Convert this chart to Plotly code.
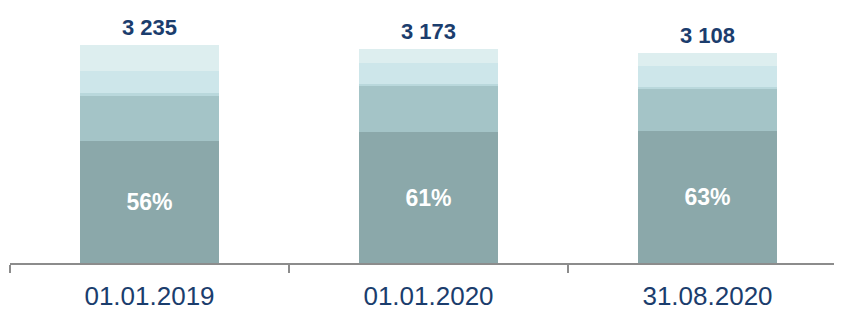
import plotly.graph_objects as go

categories = ["01.01.2019", "01.01.2020", "31.08.2020"]
totals = [3235, 3173, 3108]
share_labels = ["56%", "61%", "63%"]
seg_dark = [1812, 1935, 1958]
seg_mid = [672, 680, 615]
seg_thin = [28, 38, 30]
seg_light = [330, 315, 315]
seg_lightest = [393, 205, 190]

colors = ["#8BA8AA", "#A4C4C7", "#B9D8DC", "#CDE6EA", "#DDEEEF"]
series = [seg_dark, seg_mid, seg_thin, seg_light, seg_lightest]

FONT = "Liberation Sans Narrow, Arial Narrow, Liberation Sans, Arial, sans-serif"
NAVY = "#1B3D6D"

fig = go.Figure()
for i, (vals, col) in enumerate(zip(series, colors)):
    fig.add_trace(go.Bar(
        x=categories, y=vals,
        marker=dict(color=col, line=dict(width=0)),
        width=0.5,
        text=share_labels if i == 0 else None,
        textposition="inside" if i == 0 else "none",
        insidetextanchor="middle",
        textfont=dict(family=FONT, size=23, color="white", weight="bold"),
        hoverinfo="skip",
        showlegend=False,
    ))

for c, t in zip(categories, totals):
    fig.add_annotation(
        x=c, y=t, text=f"{t:,}".replace(",", " "),
        showarrow=False, yanchor="bottom", yshift=3,
        font=dict(family=FONT, size=22, color=NAVY, weight="bold"),
    )

# page body has an 8px margin; compensate so plot area spans x 10..842, axis at y 263
fig.update_layout(
    barmode="stack",
    width=842, height=311,
    margin=dict(l=2, r=8, t=0, b=56),
    plot_bgcolor="white", paper_bgcolor="white",
    bargap=0,
)
fig.update_xaxes(
    type="category",
    range=[-0.5, -0.5 + 832 / 279],
    showline=True, linecolor="#8C8C8C", linewidth=2,
    ticks="outside", tickson="boundaries", ticklen=8, tickwidth=2, tickcolor="#8C8C8C",
    tickfont=dict(family=FONT, size=26, color=NAVY),
    ticklabelstandoff=9,
    showgrid=False, automargin=False,
)
fig.update_yaxes(range=[0, 255 / 0.06754], visible=False, showgrid=False)

fig.write_html("out.html")
